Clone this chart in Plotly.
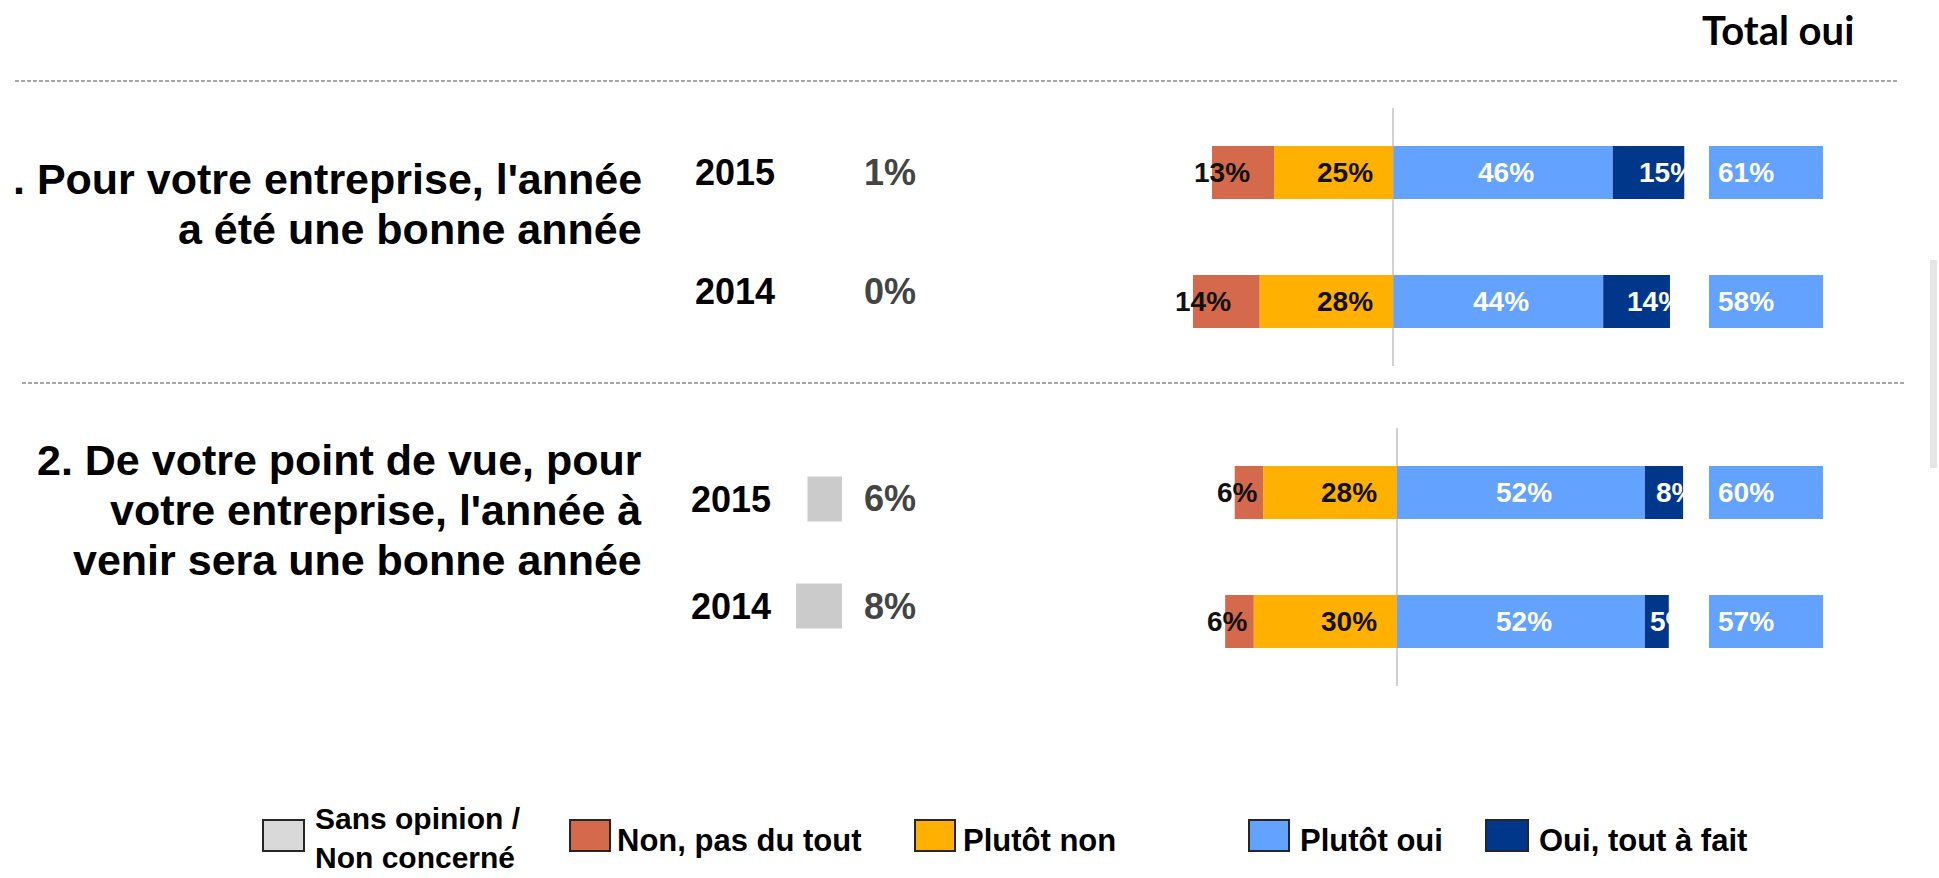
import plotly.graph_objects as go

# ---------------- data ----------------
YEARS = ["2015", "2014"]
QUESTIONS = [
    [". Pour votre entreprise, l'année", "a été une bonne année"],
    ["2. De votre point de vue, pour", "votre entreprise, l'année à", "venir sera une bonne année"],
]
SANS_OPINION = [[1, 0], [6, 8]]
NON_PAS_DU_TOUT = [[13, 14], [6, 6]]
PLUTOT_NON = [[25, 28], [28, 30]]
PLUTOT_OUI = [[46, 44], [52, 52]]
OUI_TOUT_A_FAIT = [[15, 14], [8, 5]]
TOTAL_OUI = [[61, 58], [60, 57]]
SHOW_SANS_BAR = [False, True]

LEGEND_LABELS = ["Sans opinion /<br>Non concerné", "Non, pas du tout", "Plutôt non",
                 "Plutôt oui", "Oui, tout à fait"]

# ---------------- style ----------------
W, H = 1939, 878
C_GRAY = "#CBCBCB"
C_RED = "#D4694B"
C_ORANGE = "#FFB000"
C_LBLUE = "#64A2FF"
C_DBLUE = "#00378A"
LEGEND_COLORS = ["#D9D9D9", C_RED, C_ORANGE, C_LBLUE, C_DBLUE]

FONT = "Liberation Sans, Arial, sans-serif"
NARROW = "Liberation Sans Narrow, Arial Narrow, Liberation Sans, sans-serif"

CAT_ORDER = YEARS[::-1]          # bottom -> top on the category axes


def cat(yr):
    return CAT_ORDER.index(yr)


def fx(p):
    return p / W


def fy(p):
    return 1 - p / H


PX_PER = 4.77
CENTER_X = [1393.3, 1396.9]
BAR_DOM = (1150, 1900)
PANEL_Y = [(108, 366), (428, 686)]
TOT_LEFT_PX, TOT_W_PX = 1709, 114
BAR_THICK = 0.41

LEFT_ZERO = 842
LEFT_PX_PER = 5.75
LEFT_DOM = [(776, 930), (772, 930)]
LEFT_Y = [(113, 351), (445.5, 659.5)]
LEFT_THICK = 0.42

fig = go.Figure()
ann = []
shapes = []

for i in range(2):
    xa, ya = ("x", "y") if i == 0 else ("x2", "y2")
    xl, yl = ("x3", "y3") if i == 0 else ("x4", "y4")
    red, ora, lb, db, tot, so = (NON_PAS_DU_TOUT[i], PLUTOT_NON[i], PLUTOT_OUI[i],
                                 OUI_TOUT_A_FAIT[i], TOTAL_OUI[i], SANS_OPINION[i])
    tot_base = (TOT_LEFT_PX - CENTER_X[i]) / PX_PER
    tot_w = TOT_W_PX / PX_PER

    common = dict(orientation="h", y=YEARS, width=BAR_THICK, xaxis=xa, yaxis=ya,
                  hoverinfo="skip", marker_line_width=0)
    fig.add_trace(go.Bar(x=red, base=[-(r + o) for r, o in zip(red, ora)],
                         marker_color=C_RED, **common))
    fig.add_trace(go.Bar(x=ora, base=[-o for o in ora], marker_color=C_ORANGE, **common))
    fig.add_trace(go.Bar(x=lb, base=[0, 0], marker_color=C_LBLUE, **common))
    fig.add_trace(go.Bar(x=db, base=lb, marker_color=C_DBLUE, **common))
    fig.add_trace(go.Bar(x=[tot_w] * 2, base=[tot_base] * 2, marker_color=C_LBLUE, **common))

    if SHOW_SANS_BAR[i]:
        fig.add_trace(go.Bar(x=so, base=[0, 0], y=YEARS, orientation="h", width=LEFT_THICK,
                             marker_color=C_GRAY, marker_line_width=0,
                             xaxis=xl, yaxis=yl, hoverinfo="skip"))
    else:
        fig.add_trace(go.Bar(x=[None, None], y=YEARS, orientation="h",
                             xaxis=xl, yaxis=yl, hoverinfo="skip"))

    lab = dict(size=28, family=NARROW, weight="bold")
    for k, yr in enumerate(YEARS):
        yc = cat(yr)
        ann.append(dict(x=-(red[k] + ora[k]), y=yc, xref=xa, yref=ya, text=f"{red[k]}%",
                        showarrow=False, xanchor="left", xshift=-20,
                        font=dict(color="#111111", **lab)))
        ann.append(dict(x=0, y=yc, xref=xa, yref=ya, text=f"{ora[k]}%",
                        showarrow=False, xanchor="right", xshift=-18,
                        font=dict(color="#111111", **lab)))
        ann.append(dict(x=lb[k] / 2, y=yc, xref=xa, yref=ya, text=f"{lb[k]}%",
                        showarrow=False, xanchor="center", xshift=3,
                        font=dict(color="white", **lab)))
        # dark-blue label starts inside the bar and runs off its end (white on white)
        ann.append(dict(x=lb[k], y=yc, xref=xa, yref=ya, text=f"{db[k]}%",
                        showarrow=False, xanchor="left",
                        xshift=0.45 * db[k] * PX_PER - 8,
                        font=dict(color="white", **lab)))
        ann.append(dict(x=tot_base, y=yc, xref=xa, yref=ya, text=f"{tot[k]}%",
                        showarrow=False, xanchor="left", xshift=7,
                        font=dict(color="white", **lab)))
        ann.append(dict(x=0, y=yc, xref=xl, yref=yl, text=f"{so[k]}%",
                        showarrow=False, xanchor="left", xshift=20,
                        font=dict(color="#444444", size=36, family=FONT, weight="bold")))

# axes layout
lay = {}
for i in range(2):
    n = "" if i == 0 else "2"
    lo = (BAR_DOM[0] - CENTER_X[i]) / PX_PER
    hi = (BAR_DOM[1] - CENTER_X[i]) / PX_PER
    lay[f"xaxis{n}"] = dict(domain=[fx(BAR_DOM[0]), fx(BAR_DOM[1])], range=[lo, hi],
                            showgrid=False, showticklabels=False, zeroline=True,
                            zerolinecolor="#D2D2D2", zerolinewidth=2, showline=False,
                            anchor=f"y{n}", fixedrange=True)
    lay[f"yaxis{n}"] = dict(domain=[fy(PANEL_Y[i][1]), fy(PANEL_Y[i][0])], range=[-0.5, 1.5],
                            type="category", categoryorder="array",
                            categoryarray=CAT_ORDER, showgrid=False,
                            showticklabels=False, zeroline=False, anchor=f"x{n}",
                            fixedrange=True)
    m = str(3 + i)
    d0, d1 = LEFT_DOM[i]
    lay[f"xaxis{m}"] = dict(domain=[fx(d0), fx(d1)],
                            range=[(LEFT_ZERO - d0) / LEFT_PX_PER, -(d1 - LEFT_ZERO) / LEFT_PX_PER],
                            showgrid=False, showticklabels=False, zeroline=False,
                            showline=False, anchor=f"y{m}", fixedrange=True)
    lay[f"yaxis{m}"] = dict(domain=[fy(LEFT_Y[i][1]), fy(LEFT_Y[i][0])], range=[-0.5, 1.5],
                            type="category", categoryorder="array",
                            categoryarray=CAT_ORDER, showgrid=False, zeroline=False,
                            showline=False, ticks="", anchor=f"x{m}", fixedrange=True,
                            tickfont=dict(size=36, family=FONT, color="black", weight="bold"))

# question texts
Q_RIGHT = 644
Q_LINE_Y = [[179, 229], [460, 510, 560]]
for q, lines in enumerate(QUESTIONS):
    for j, line in enumerate(lines):
        ann.append(dict(x=fx(Q_RIGHT), y=fy(Q_LINE_Y[q][j]), xref="paper", yref="paper",
                        text=line, showarrow=False, xanchor="right", yanchor="middle",
                        font=dict(size=43, family=FONT, color="black", weight="bold")))

# header
ann.append(dict(x=fx(1778), y=fy(30), xref="paper", yref="paper", text="Total oui",
                showarrow=False, xanchor="center", yanchor="middle",
                font=dict(size=40, family="Lato, Carlito, Liberation Sans", color="black",
                          weight="bold")))

# separators
shapes.append(dict(type="line", xref="paper", yref="paper", x0=fx(15), x1=fx(1898),
                   y0=fy(81), y1=fy(81), line=dict(color="#8C8C8C", width=1.3, dash="4px,2px")))
shapes.append(dict(type="line", xref="paper", yref="paper", x0=fx(22), x1=fx(1904),
                   y0=fy(383), y1=fy(383), line=dict(color="#8C8C8C", width=1.3, dash="4px,2px")))
shapes.append(dict(type="rect", xref="paper", yref="paper", x0=fx(1930), x1=fx(1937),
                   y0=fy(468), y1=fy(260), fillcolor="#E6E6E6", line=dict(width=0)))

# manual legend
LEG_BOX_X = [(263, 304), (570, 610), (915, 955), (1249, 1289), (1486, 1528)]
LEG_TXT_X = [313, 615, 961, 1298, 1537]
LEG_TXT_Y = [838, 840, 840, 840, 840]
for k, lab in enumerate(LEGEND_LABELS):
    x0, x1 = LEG_BOX_X[k]
    shapes.append(dict(type="rect", xref="paper", yref="paper", x0=fx(x0), x1=fx(x1),
                       y0=fy(851), y1=fy(820), fillcolor=LEGEND_COLORS[k],
                       line=dict(color="#262626", width=2)))
    ann.append(dict(x=fx(LEG_TXT_X[k]), y=fy(LEG_TXT_Y[k]), xref="paper", yref="paper",
                    text=lab, showarrow=False, xanchor="left", yanchor="middle", align="left",
                    font=dict(size=30 if k == 0 else 31, family=FONT, color="black",
                              weight="bold")))

fig.update_layout(width=W, height=H, margin=dict(l=0, r=0, t=0, b=0),
                  paper_bgcolor="white", plot_bgcolor="rgba(0,0,0,0)",
                  showlegend=False, barmode="overlay", annotations=ann, shapes=shapes,
                  **lay)

fig.write_html("out.html", config={"displayModeBar": False},
               post_script="document.body.style.margin='0';")
